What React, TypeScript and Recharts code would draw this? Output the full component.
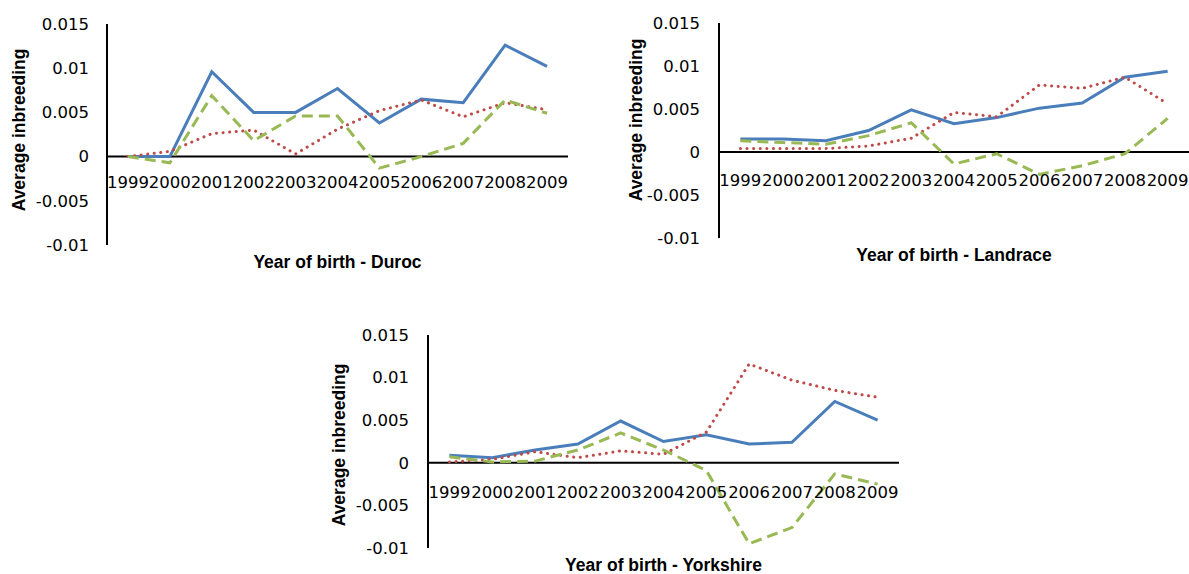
import { LineChart, Line, XAxis, YAxis, ReferenceLine } from 'recharts';

const years = ['1999', '2000', '2001', '2002', '2003', '2004', '2005', '2006', '2007', '2008', '2009'];
const yTicks = [-0.01, -0.005, 0, 0.005, 0.01, 0.015];
const Y_MIN = -0.01;
const Y_MAX = 0.015;

const durocSolid = [0, 0, 0.0096, 0.005, 0.005, 0.0077, 0.0038, 0.0065, 0.0061, 0.0126, 0.0102];
const durocDotted = [0, 0.0006, 0.0026, 0.003, 0.0003, 0.0031, 0.0052, 0.0064, 0.0045, 0.0061, 0.0053];
const durocDashed = [0, -0.0007, 0.0069, 0.0018, 0.0046, 0.0046, -0.0013, 0, 0.0015, 0.0064, 0.0049];

const landraceSolid = [0.0015, 0.0015, 0.0013, 0.0025, 0.0049, 0.0033, 0.004, 0.0051, 0.0057, 0.0087, 0.0094];
const landraceDotted = [0.0004, 0.0004, 0.0004, 0.0007, 0.0016, 0.0046, 0.0041, 0.0078, 0.0074, 0.0087, 0.0056];
const landraceDashed = [0.0013, 0.0011, 0.0009, 0.0019, 0.0034, -0.0014, -0.0002, -0.0026, -0.0016, -0.0002, 0.0039];

const yorkshireSolid = [0.0009, 0.0006, 0.0015, 0.0022, 0.0049, 0.0025, 0.0033, 0.0022, 0.0024, 0.0072, 0.005];
const yorkshireDotted = [0.0001, 0.0004, 0.0013, 0.0006, 0.0014, 0.001, 0.0036, 0.0116, 0.0097, 0.0085, 0.0077];
const yorkshireDashed = [0.0007, 0.0001, 0.0002, 0.0015, 0.0035, 0.0015, -0.0009, -0.0095, -0.0076, -0.0013, -0.0025];

const BLUE = '#4A7EBB';
const RED = '#BE4B48';
const GREEN = '#98B954';
const TICK_FONT = 'DejaVu Sans';
const TITLE_FONT = 'Liberation Sans';

interface PanelProps {
  breed: string;
  solid: number[];
  dotted: number[];
  dashed: number[];
  left: number;
  top: number;
  width: number;
  height: number;
  plot: { l: number; t: number; r: number; b: number };
  yTickGap: number;
  labelGap: number;
  yTitleX: number;
  yTitleY: number;
  xTitleY: number;
}

function Panel(p: PanelProps) {
  const data = years.map((year, i) => ({
    year,
    solid: p.solid[i],
    dotted: p.dotted[i],
    dashed: p.dashed[i],
  }));
  const plotH = p.plot.b - p.plot.t;
  // the category labels sit under the zero line, like Excel does it
  const zeroY = p.plot.t + plotH * (Y_MAX / (Y_MAX - Y_MIN));
  const xAxisH = p.height - p.plot.b;

  const renderYearTick = (props: any) => (
    <text
      x={props.x}
      y={zeroY + p.labelGap}
      textAnchor="middle"
      fontFamily={TICK_FONT}
      fontSize={16.5}
      fill="#000"
    >
      {props.payload.value}
    </text>
  );

  return (
    <div style={{ position: 'absolute', left: p.left, top: p.top, width: p.width, height: p.height }}>
      <LineChart
        width={p.width}
        height={p.height}
        data={data}
        margin={{ top: p.plot.t, right: p.width - p.plot.r, bottom: 0, left: 0 }}
      >
        <XAxis
          dataKey="year"
          scale="band"
          axisLine={false}
          tickLine={false}
          interval={0}
          height={xAxisH}
          tick={renderYearTick}
          label={{
            value: `Year of birth - ${p.breed}`,
            position: 'center',
            dy: p.xTitleY - (p.plot.b + xAxisH / 2),
            fill: '#000',
            fontSize: 17.5,
            fontWeight: 700,
            fontFamily: TITLE_FONT,
          }}
        />
        <YAxis
          width={p.plot.l}
          domain={[Y_MIN, Y_MAX]}
          ticks={yTicks}
          interval={0}
          axisLine={{ stroke: '#000', strokeWidth: 2 }}
          tickLine={false}
          tickSize={6}
          tickMargin={p.yTickGap - 6}
          tick={{ fill: '#000', fontSize: 16.5, fontFamily: TICK_FONT }}
          label={{
            value: 'Average inbreeding',
            angle: -90,
            position: 'center',
            dx: p.yTitleX - p.plot.l / 2,
            dy: p.yTitleY - (p.plot.t + plotH / 2),
            fill: '#000',
            fontSize: 17.5,
            fontWeight: 700,
            fontFamily: TITLE_FONT,
          }}
        />
        <ReferenceLine y={0} stroke="#000" strokeWidth={2} />
        <Line
          type="linear"
          dataKey="solid"
          stroke={BLUE}
          strokeWidth={3}
          dot={false}
          isAnimationActive={false}
        />
        <Line
          type="linear"
          dataKey="dotted"
          stroke={RED}
          strokeWidth={3}
          strokeDasharray="0.1 6.5"
          strokeLinecap="round"
          dot={false}
          isAnimationActive={false}
        />
        <Line
          type="linear"
          dataKey="dashed"
          stroke={GREEN}
          strokeWidth={3}
          strokeDasharray="11 6"
          dot={false}
          isAnimationActive={false}
        />
      </LineChart>
    </div>
  );
}

export default function App() {
  return (
    <div style={{ position: 'absolute', left: 0, top: 0, width: 1189, height: 574, background: '#fff', overflow: 'hidden' }}>
      <Panel
        breed="Duroc"
        solid={durocSolid}
        dotted={durocDotted}
        dashed={durocDashed}
        left={0}
        top={0}
        width={600}
        height={280}
        plot={{ l: 107, t: 24, r: 568, b: 245 }}
        yTickGap={18}
        labelGap={31}
        yTitleX={19}
        yTitleY={130}
        xTitleY={262}
      />
      <Panel
        breed="Landrace"
        solid={landraceSolid}
        dotted={landraceDotted}
        dashed={landraceDashed}
        left={600}
        top={0}
        width={589}
        height={280}
        plot={{ l: 119, t: 23, r: 589, b: 238 }}
        yTickGap={19}
        labelGap={34}
        yTitleX={36}
        yTitleY={120}
        xTitleY={255}
      />
      <Panel
        breed="Yorkshire"
        solid={yorkshireSolid}
        dotted={yorkshireDotted}
        dashed={yorkshireDashed}
        left={320}
        top={300}
        width={600}
        height={274}
        plot={{ l: 108, t: 35, r: 579, b: 248 }}
        yTickGap={19}
        labelGap={35}
        yTitleX={19}
        yTitleY={145}
        xTitleY={265}
      />
    </div>
  );
}
